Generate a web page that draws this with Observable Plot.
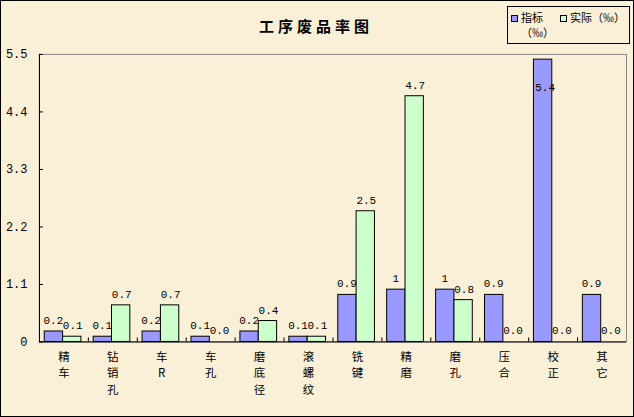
<!DOCTYPE html>
<html>
<head>
<meta charset="utf-8">
<script src="https://cdn.jsdelivr.net/npm/d3@7"></script>
<script src="https://cdn.jsdelivr.net/npm/@observablehq/plot@0.6"></script>
<style>
  html, body { margin: 0; padding: 0; background: #fff; }
  #wrap {
    position: relative; width: 634px; height: 417px; box-sizing: border-box;
    border: 1px solid #000; background: #faf0d8; overflow: hidden;
    font-family: "Noto Sans CJK SC", sans-serif;
  }
  #chart { position: absolute; left: -1px; top: -1px; }
  #title {
    position: absolute; left: 258px; top: 15px; font-size: 15px; font-weight: bold;
    letter-spacing: 4px; line-height: 20px; color: #000; white-space: nowrap;
  }
  #legend {
    position: absolute; left: 506px; top: 5px; width: 121px; height: 36px;
    border: 1px solid #000; background: #faf0d8; font-size: 11px; line-height: 13px; color: #000;
  }
  .sw { position: absolute; width: 5px; height: 5px; border: 1px solid #000; }
  .lt { position: absolute; white-space: nowrap; }
</style>
</head>
<body>
<div id="wrap">
  <div id="chart"></div>
  <div id="title"></div>
  <div id="legend"></div>
</div>
<script>
const categories = ["精车", "钻销孔", "车R", "车孔", "磨底径", "滚螺纹", "铣键", "精磨", "磨孔", "压合", "校正", "其它"];
const targetValues = [0.2, 0.1, 0.2, 0.1, 0.2, 0.1, 0.9, 1, 1, 0.9, 5.4, 0.9];
const targetLabels = ["0.2", "0.1", "0.2", "0.1", "0.2", "0.1", "0.9", "1", "1", "0.9", "5.4", "0.9"];
const actualValues = [0.1, 0.7, 0.7, 0.0, 0.4, 0.1, 2.5, 4.7, 0.8, 0.0, 0.0, 0.0];
const actualLabels = ["0.1", "0.7", "0.7", "0.0", "0.4", "0.1", "2.5", "4.7", "0.8", "0.0", "0.0", "0.0"];
const yTicks = [0, 1.1, 2.2, 3.3, 4.4, 5.5];
const yTickLabels = ["0", "1.1", "2.2", "3.3", "4.4", "5.5"];
const titleText = "工序废品率图";
const seriesNames = ["指标", "实际（‰）"];
const seriesUnit = "（‰）";
const colors = ["#9999ff", "#ccffcc"];

const target = categories.map((c, i) => ({c, v: targetValues[i], label: targetLabels[i]}));
const actual = categories.map((c, i) => ({c, v: actualValues[i], label: actualLabels[i]}));

const W = 634, H = 417;
const mL = 39, mR = 7, mT = 54, mB = 75;
const band = (W - mL - mR) / categories.length;
const frameH = H - mT - mB;
const inL = band * 0.108, barW = band * 0.375;

const numFont = "Liberation Mono, DejaVu Sans Mono, monospace";
const yMax = yTicks[yTicks.length - 1];
const maxChars = d3.max(categories, c => c.length);

// one text row per character position, stacked vertically
const catRows = d3.range(maxChars).map(k =>
  Plot.text(categories.filter(c => c.length > k), {
    x: d => d, frameAnchor: "bottom", text: d => d[k],
    dy: 19 + k * 16.5, fontSize: 11.5,
    fontFamily: "Noto Sans CJK SC, sans-serif", fill: "#000"
  })
);

const chart = Plot.plot({
  width: W, height: H,
  marginLeft: mL, marginRight: mR, marginTop: mT, marginBottom: mB,
  style: {background: "transparent", overflow: "visible"},
  x: {type: "band", domain: categories, padding: 0, axis: null},
  y: {domain: [0, yMax], axis: null},
  marks: [
    Plot.frame({stroke: "#888"}),
    Plot.barY(target, {x: "c", y: "v", fill: colors[0], stroke: "#000", strokeWidth: 1,
      insetLeft: inL, insetRight: band - inL - barW}),
    Plot.barY(actual, {x: "c", y: "v", fill: colors[1], stroke: "#000", strokeWidth: 1,
      insetLeft: inL + barW, insetRight: band - inL - 2 * barW}),
    Plot.ruleY([0], {stroke: "#000"}),
    Plot.ruleX([categories[0]], {stroke: "#000", dx: -band / 2}),
    // y ticks (inward) and labels
    Plot.tickY(yTicks, {y: d => d, stroke: "#000", insetRight: W - mL - mR - 4}),
    Plot.text(yTicks, {y: d => d, text: (d, i) => yTickLabels[i], frameAnchor: "left",
      textAnchor: "end", dx: -12, fontSize: 12, fontFamily: numFont, fill: "#000"}),
    // x boundary ticks
    Plot.tickX(categories.slice(1), {x: d => d, dx: -band / 2, stroke: "#000", insetTop: frameH - 4}),
    ...catRows,
    // value labels
    Plot.text(target.filter(d => d.v < yMax - 0.5), {x: "c", y: "v", text: "label",
      dx: inL + barW / 2 - band / 2 - 0.5, dy: -11, fontSize: 11, fontFamily: numFont, fill: "#000"}),
    Plot.text(target.filter(d => d.v >= yMax - 0.5), {x: "c", y: "v", text: "label",
      dx: inL + barW / 2 - band / 2 + 2, dy: 28, fontSize: 11, fontFamily: numFont, fill: "#000"}),
    Plot.text(actual, {x: "c", y: "v", text: "label",
      dx: inL + 1.5 * barW - band / 2 + 0.5, dy: -11, fontSize: 11, fontFamily: numFont, fill: "#000"})
  ]
});
document.getElementById("chart").appendChild(chart);

document.getElementById("title").textContent = titleText;

const lg = document.getElementById("legend");
lg.innerHTML = `
  <div class="sw" style="left:3px;top:8px;background:${colors[0]}"></div>
  <div class="lt" style="left:13px;top:4px">${seriesNames[0]}</div>
  <div class="lt" style="left:13px;top:19px">${seriesUnit}</div>
  <div class="sw" style="left:52px;top:8px;background:${colors[1]}"></div>
  <div class="lt" style="left:62px;top:4px">${seriesNames[1]}</div>
`;
</script>
</body>
</html>
